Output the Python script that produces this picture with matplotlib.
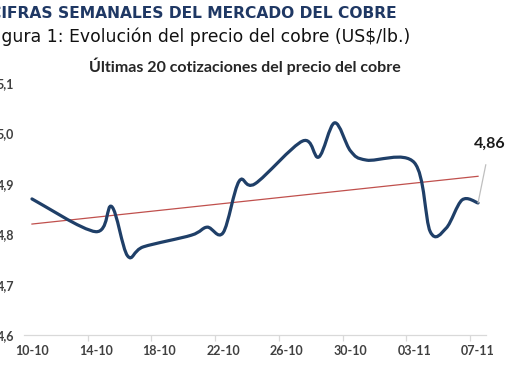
import numpy as np
import matplotlib

matplotlib.use("Agg")
import matplotlib.pyplot as plt
from matplotlib.path import Path
from matplotlib.patches import PathPatch


# Últimas 20 cotizaciones (US$/lb), fechas dd-mm
DATES = [
    "2025-10-10", "2025-10-14", "2025-10-15", "2025-10-16", "2025-10-17",
    "2025-10-20", "2025-10-21", "2025-10-22", "2025-10-23", "2025-10-24",
    "2025-10-27", "2025-10-28", "2025-10-29", "2025-10-30", "2025-10-31",
    "2025-11-03", "2025-11-04", "2025-11-05", "2025-11-06", "2025-11-07",
]
PRICES = [
    4.870, 4.805, 4.855, 4.757, 4.775,
    4.798, 4.814, 4.803, 4.905, 4.900,
    4.985, 4.953, 5.021, 4.965, 4.947,
    4.942, 4.805, 4.812, 4.868, 4.862,
]
TICK_LABELS = ["10-10", "14-10", "18-10", "22-10", "26-10", "30-10", "03-11", "07-11"]
Y_TICKS = [4.6, 4.7, 4.8, 4.9, 5.0, 5.1]

HEADER = "CIFRAS SEMANALES DEL MERCADO DEL COBRE"
FIG_TITLE = "Figura 1: Evolución del precio del cobre (US$/lb.)"
CHART_TITLE = "Últimas 20 cotizaciones del precio del cobre"
LAST_LABEL = "4,86"

W, H = 510, 382
LINE_COLOR = "#1F3F68"
TREND_COLOR = "#C0504D"
AXIS_COLOR = "#D9D9D9"
TEXT_COLOR = "#404040"


def smooth_path(x, y) -> Path:
    # Excel-style smoothed line: cubic Bezier through each point
    pts = np.column_stack([x, y])
    n = len(pts)
    verts = [pts[0]]
    codes = [Path.MOVETO]
    for i in range(n - 1):
        p0 = pts[i - 1] if i > 0 else pts[i]
        p1 = pts[i]
        p2 = pts[i + 1]
        p3 = pts[i + 2] if i + 2 < n else pts[i + 1]
        c1 = p1 + (p2 - p0) / 6.0
        c2 = p2 - (p3 - p1) / 6.0
        verts.extend([c1, c2, p2])
        codes.extend([Path.CURVE4] * 3)
    return Path(np.array(verts), codes)


def main() -> None:
    dates = np.array(DATES, dtype="datetime64[D]")
    days = (dates - dates[0]).astype(float)
    prices = np.array(PRICES)

    fig = plt.figure(figsize=(W / 100, H / 100), dpi=100)
    ax = fig.add_axes([24 / W, 47 / H, 462 / W, 252 / H])

    patch = PathPatch(smooth_path(days, prices), facecolor="none",
                      edgecolor=LINE_COLOR, linewidth=2.3, capstyle="round",
                      joinstyle="round", zorder=3)
    ax.add_patch(patch)

    slope, intercept = np.polyfit(days, prices, 1)
    ax.plot([days[0], days[-1]], [intercept + slope * days[0], intercept + slope * days[-1]],
            color=TREND_COLOR, linewidth=0.9, zorder=2)

    ax.set_xlim(-0.5, 28.5)
    ax.set_ylim(4.6, 5.1)

    for side in ("top", "right", "left"):
        ax.spines[side].set_visible(False)
    ax.spines["bottom"].set_color(AXIS_COLOR)
    ax.spines["bottom"].set_linewidth(0.9)

    tick_pos = np.arange(0, 29, 4)
    ax.set_xticks(tick_pos)
    ax.set_xticklabels(TICK_LABELS)
    ax.set_xticks(tick_pos[1:] - 0.5, minor=True)
    ax.tick_params(axis="x", which="major", length=0, pad=7,
                   labelsize=9, labelcolor=TEXT_COLOR)
    ax.tick_params(axis="x", which="minor", length=4, width=0.9, color=AXIS_COLOR)

    ax.set_yticks(Y_TICKS)
    ax.set_yticklabels([f"{v:.1f}".replace(".", ",") for v in Y_TICKS])
    ax.tick_params(axis="y", length=0, pad=7, labelsize=9, labelcolor=TEXT_COLOR)
    for lab in ax.get_xticklabels() + ax.get_yticklabels():
        lab.set_fontfamily("Lato")
        lab.set_fontweight("bold")

    # Etiqueta del último valor con línea guía
    ax.annotate(LAST_LABEL, xy=(days[-1], prices[-1]), xytext=(490 / W, (H - 144) / H),
                textcoords="figure fraction", ha="center", va="center",
                fontsize=11.5, fontweight="bold", family="Lato", color="#1a1a1a",
                arrowprops=dict(arrowstyle="-", color="#BFBFBF", linewidth=0.9,
                                shrinkA=8, shrinkB=0))

    fig.text(397 / W, 1 - 14 / H, HEADER, ha="right", va="center",
             fontsize=11.2, fontweight="bold", color="#1F3864", family="DejaVu Sans")
    fig.text(410 / W, 1 - 37 / H, FIG_TITLE, ha="right", va="center",
             fontsize=12.4, color="#111111", family="DejaVu Sans")
    fig.text(245 / W, 1 - 66 / H, CHART_TITLE, ha="center", va="center",
             fontsize=11.5, fontweight="bold", color="#262626", family="Lato")

    fig.savefig("out.png", dpi=100, facecolor="white")
    plt.close(fig)


if __name__ == "__main__":
    main()
